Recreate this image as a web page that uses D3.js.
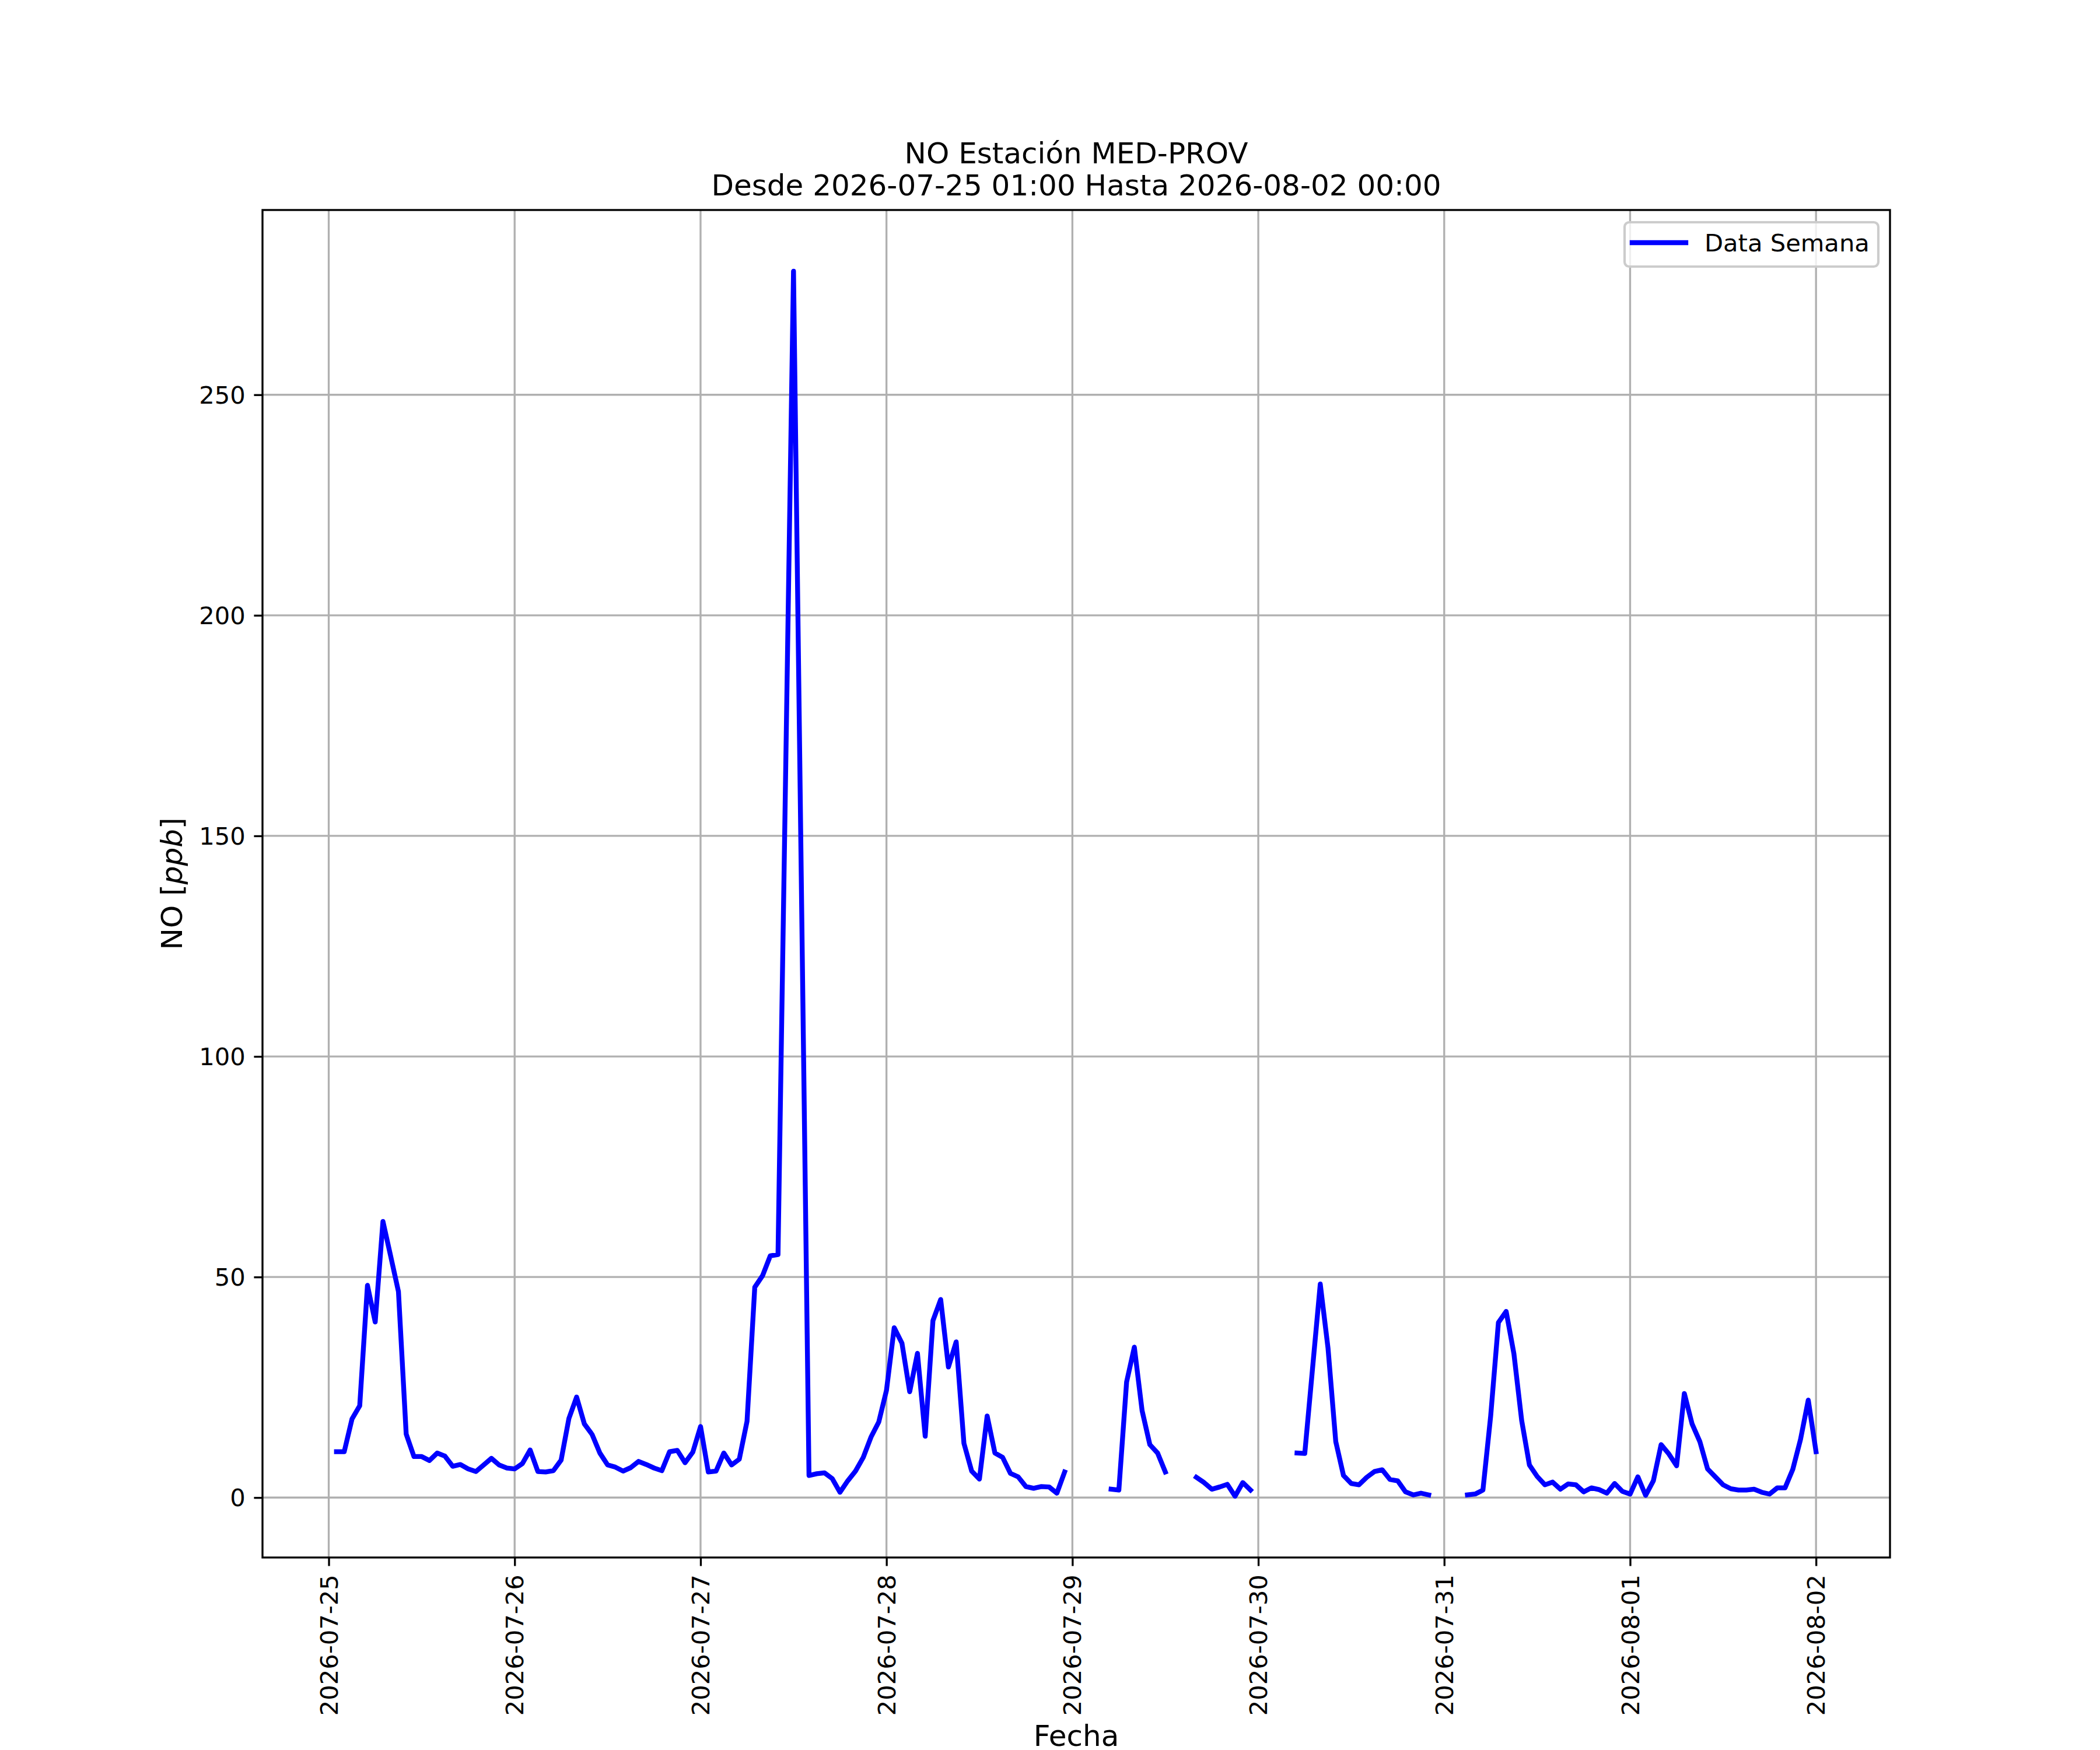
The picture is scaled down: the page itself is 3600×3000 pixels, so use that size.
<!DOCTYPE html>
<html>
<head>
<meta charset="utf-8">
<script src="https://cdn.jsdelivr.net/npm/d3@7"></script>
<style>
  html, body { margin: 0; padding: 0; background: #ffffff; }
  svg { display: block; }
  text { font-family: "DejaVu Sans", sans-serif; fill: #000; }
</style>
</head>
<body>
<script>
// ---------------- DATA ----------------
const titleLines = ["NO Estación MED-PROV", "Desde 2026-07-25 01:00 Hasta 2026-08-02 00:00"];
const seriesName = "Data Semana";
const xLabel = "Fecha";
const startTime = "2026-07-25T01:00:00Z";   // first hourly sample
// hourly NO values (ppb), null = missing
const noValues = [
  10.4, 10.4, 17.8, 20.8, 48.1, 39.8, 62.6, 54.7, 46.7, 14.4, 9.3, 9.3,
  8.4, 10.1, 9.4, 7.1, 7.5, 6.5, 5.9, 7.4, 8.9, 7.4, 6.7, 6.5,
  7.7, 10.8, 5.9, 5.8, 6.1, 8.5, 17.9, 22.8, 16.7, 14.3, 10.1, 7.4,
  6.9, 6.0, 6.8, 8.2, 7.5, 6.7, 6.1, 10.4, 10.7, 7.9, 10.3, 16.1,
  5.8, 6.0, 10.1, 7.4, 8.7, 17.3, 47.7, 50.3, 54.8, 55.1, 166, 278,
  141, 5.0, 5.4, 5.6, 4.3, 1.2, 3.8, 6.0, 9.1, 13.7, 17.1, 24.3,
  38.5, 35.0, 24.0, 32.7, 13.9, 40.1, 44.9, 29.6, 35.3, 12.3, 6.0, 4.2,
  18.5, 10.1, 9.1, 5.5, 4.7, 2.5, 2.1, 2.5, 2.4, 1.0, 5.8, null,
  null, null, null, null, 1.9, 1.7, 26.2, 34.1, 19.7, 12.0, 10.1, 5.8,
  null, null, null, 4.6, 3.4, 1.9, 2.4, 3.0, 0.3, 3.4, 1.7, null,
  null, null, null, null, 10.1, 10.0, 29.2, 48.4, 33.9, 12.7, 5.0, 3.2,
  2.9, 4.6, 5.9, 6.3, 4.1, 3.8, 1.3, 0.6, 1.0, 0.6, null, null,
  null, null, 0.6, 0.8, 1.7, 18.5, 39.7, 42.2, 32.6, 17.5, 7.4, 4.8,
  2.9, 3.5, 1.9, 3.1, 2.9, 1.3, 2.2, 1.8, 1.0, 3.2, 1.4, 0.8,
  4.7, 0.5, 3.8, 12.0, 9.9, 7.2, 23.6, 16.7, 12.7, 6.5, 4.7, 2.9,
  2.0, 1.7, 1.7, 1.9, 1.2, 0.8, 2.2, 2.2, 6.4, 13.2, 22.1, 10.4
];
const xTickDates = ["2026-07-25","2026-07-26","2026-07-27","2026-07-28","2026-07-29",
                    "2026-07-30","2026-07-31","2026-08-01","2026-08-02"];
const yTickValues = [0, 50, 100, 150, 200, 250];

// ---------------- LAYOUT ----------------
const W = 3600, H = 3000;
const pL = 450, pR = 3240, pT = 360, pB = 2670;
const pt = 300 / 72;
const tickFont = 10 * pt, labelFont = 12 * pt;
const tickLen = 3.5 * pt, tickPad = 3.5 * pt, thin = 0.8 * pt;

const t0 = new Date(startTime).getTime();
const data = noValues.map((v, i) => ({ t: new Date(t0 + i * 3600e3), v: v }));

const tExt = d3.extent(data, d => d.t);
const tSpan = tExt[1] - tExt[0];
const x = d3.scaleUtc()
  .domain([new Date(+tExt[0] - 0.05 * tSpan), new Date(+tExt[1] + 0.05 * tSpan)])
  .range([pL, pR]);

const vExt = d3.extent(data.filter(d => d.v != null), d => d.v);
const vSpan = vExt[1] - vExt[0];
const y = d3.scaleLinear()
  .domain([vExt[0] - 0.05 * vSpan, vExt[1] + 0.05 * vSpan])
  .range([pB, pT]);

const svg = d3.select("body").append("svg")
  .attr("width", W).attr("height", H)
  .attr("viewBox", `0 0 ${W} ${H}`);
svg.append("rect").attr("width", W).attr("height", H).attr("fill", "#fff");

svg.append("defs").append("clipPath").attr("id", "plotclip")
  .append("rect").attr("x", pL).attr("y", pT)
  .attr("width", pR - pL).attr("height", pB - pT);

const xTicks = xTickDates.map(s => new Date(s + "T00:00:00Z"));
const fmt = d3.utcFormat("%Y-%m-%d");

// grid
const grid = svg.append("g").attr("stroke", "#b0b0b0").attr("stroke-width", thin);
grid.selectAll("line.gx").data(xTicks).join("line").attr("class", "gx")
  .attr("x1", d => x(d)).attr("x2", d => x(d)).attr("y1", pT).attr("y2", pB);
grid.selectAll("line.gy").data(yTickValues).join("line").attr("class", "gy")
  .attr("x1", pL).attr("x2", pR).attr("y1", d => y(d)).attr("y2", d => y(d));

// data line
const line = d3.line()
  .defined(d => d.v != null)
  .x(d => x(d.t)).y(d => y(d.v));
svg.append("path")
  .datum(data)
  .attr("clip-path", "url(#plotclip)")
  .attr("d", line)
  .attr("fill", "none")
  .attr("stroke", "#0000ff")
  .attr("stroke-width", 2 * pt)
  .attr("stroke-linejoin", "round")
  .attr("stroke-linecap", "square");

// x axis (ticks + rotated labels)
const xAxis = d3.axisBottom(x).tickValues(xTicks).tickFormat(fmt)
  .tickSize(tickLen).tickPadding(tickPad);
const gx = svg.append("g").attr("transform", `translate(0,${pB})`).call(xAxis);
gx.select(".domain").remove();
gx.selectAll(".tick line").attr("stroke", "#000").attr("stroke-width", thin);
gx.selectAll(".tick text")
  .attr("font-size", tickFont)
  .attr("font-family", "DejaVu Sans")
  .attr("fill", "#000")
  .attr("text-anchor", "end")
  .attr("y", 0).attr("dy", "0.35em")
  .attr("transform", `translate(0,${tickLen + tickPad}) rotate(-90)`);

// y axis
const yAxis = d3.axisLeft(y).tickValues(yTickValues).tickFormat(d3.format("d"))
  .tickSize(tickLen).tickPadding(tickPad);
const gy = svg.append("g").attr("transform", `translate(${pL},0)`).call(yAxis);
gy.select(".domain").remove();
gy.selectAll(".tick line").attr("stroke", "#000").attr("stroke-width", thin);
gy.selectAll(".tick text")
  .attr("font-size", tickFont)
  .attr("font-family", "DejaVu Sans")
  .attr("fill", "#000")
  .attr("dy", "0.35em");

// spines
svg.append("rect")
  .attr("x", pL).attr("y", pT)
  .attr("width", pR - pL).attr("height", pB - pT)
  .attr("fill", "none").attr("stroke", "#000").attr("stroke-width", thin);

// title
const title = svg.append("text")
  .attr("text-anchor", "middle")
  .attr("font-size", labelFont);
titleLines.forEach((s, i) => {
  title.append("tspan").attr("x", (pL + pR) / 2)
    .attr("y", 280 + i * 55).text(s);
});

// x label
svg.append("text")
  .attr("x", (pL + pR) / 2).attr("y", 2993)
  .attr("text-anchor", "middle")
  .attr("font-size", labelFont)
  .text(xLabel);

// y label: NO [ppb] with italic ppb
const yl = svg.append("text")
  .attr("transform", `translate(312,${(pT + pB) / 2}) rotate(-90)`)
  .attr("text-anchor", "middle")
  .attr("font-size", labelFont);
yl.append("tspan").text("NO [");
yl.append("tspan").attr("font-style", "italic").text("ppb");
yl.append("tspan").text("]");

// legend
const lg = svg.append("g");
lg.append("rect")
  .attr("x", 2785).attr("y", 381).attr("width", 435).attr("height", 76)
  .attr("rx", 8).attr("ry", 8)
  .attr("fill", "rgba(255,255,255,0.8)")
  .attr("stroke", "#cccccc").attr("stroke-width", 1 * pt);
lg.append("line")
  .attr("x1", 2798).attr("x2", 2890).attr("y1", 416).attr("y2", 416)
  .attr("stroke", "#0000ff").attr("stroke-width", 2 * pt)
  .attr("stroke-linecap", "square");
lg.append("text")
  .attr("x", 2922).attr("y", 431)
  .attr("font-size", tickFont)
  .text(seriesName);
</script>
</body>
</html>
